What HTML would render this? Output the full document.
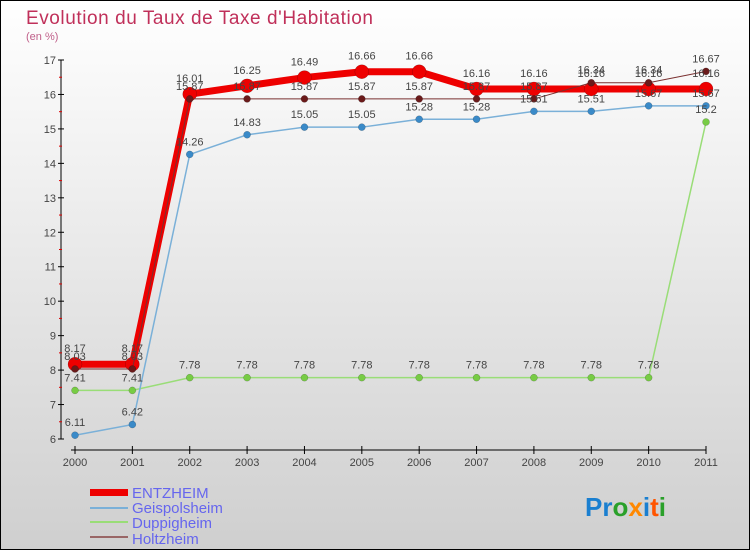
<!DOCTYPE html>
<html><head><meta charset="utf-8"><style>
html,body{margin:0;padding:0;}
body{width:750px;height:550px;overflow:hidden;font-family:"Liberation Sans",sans-serif;}
</style></head><body>
<svg id="chart" width="750" height="550" xmlns="http://www.w3.org/2000/svg">
<defs><linearGradient id="bg" x1="0" y1="0" x2="0" y2="1"><stop offset="0" stop-color="#ffffff"/><stop offset="1" stop-color="#cfcfcf"/></linearGradient></defs>
<rect x="0.5" y="0.5" width="749" height="549" fill="url(#bg)" stroke="#000"/>
<text x="26" y="24" font-size="19" fill="#c0305a" textLength="347">Evolution du Taux de Taxe d'Habitation</text>
<text x="26" y="40" font-size="11" fill="#c0608a">(en %)</text>
<g id="axes"></g><g id="series"></g><g id="labels"></g>
<g font-size="15" fill="#6666ee">
<rect x="90" y="489" width="38" height="7" fill="#ee0000"/>
<text x="132" y="498">ENTZHEIM</text>
<rect x="90" y="507" width="38" height="2" fill="#7ab0d8"/>
<text x="132" y="513">Geispolsheim</text>
<rect x="90" y="521" width="38" height="2" fill="#99dd77"/>
<text x="132" y="528">Duppigheim</text>
<rect x="90" y="536" width="38" height="2" fill="#996666"/>
<text x="132" y="544">Holtzheim</text>
</g>
<g font-size="26" font-weight="bold">
<text x="585" y="516"><tspan fill="#1a7fd0">Pr</tspan><tspan fill="#2aa02a">o</tspan><tspan fill="#ff8800">x</tspan><tspan fill="#1a7fd0">i</tspan><tspan fill="#ff5500">t</tspan><tspan fill="#2aa02a">i</tspan></text>
</g>
</svg>
<script>
const years=[2000,2001,2002,2003,2004,2005,2006,2007,2008,2009,2010,2011];
const entzheim=[8.17,8.17,16.01,16.25,16.49,16.66,16.66,16.16,16.16,16.16,16.16,16.16];
const geispolsheim=[6.11,6.42,14.26,14.83,15.05,15.05,15.28,15.28,15.51,15.51,15.67,15.67];
const duppigheim=[7.41,7.41,7.78,7.78,7.78,7.78,7.78,7.78,7.78,7.78,7.78,15.2];
const holtzheim=[8.03,8.03,15.87,15.87,15.87,15.87,15.87,15.87,15.87,16.34,16.34,16.67];
const yTicks=[6,7,8,9,10,11,12,13,14,15,16,17];
const NS="http://www.w3.org/2000/svg";
function xs(i){return 75+i*(706-75)/(years.length-1);}
function ys(v){return 439-(v-6)*(439-60)/11;}
function mk(tag,attrs,parent){const e=document.createElementNS(NS,tag);for(const k in attrs)e.setAttribute(k,attrs[k]);parent.appendChild(e);return e;}
const axes=document.getElementById('axes'),ser=document.getElementById('series'),lab=document.getElementById('labels');
let yl=mk('line',{x1:61,y1:60,x2:61,y2:439,stroke:'#000'},axes);


yTicks.forEach(t=>{
 mk('line',{x1:58,y1:ys(t),x2:64,y2:ys(t),stroke:'#000'},axes);
 if(t<17)mk('line',{x1:59,y1:ys(t+0.5),x2:62,y2:ys(t+0.5),stroke:'#d00'},axes);
 const tx=mk('text',{x:56,y:ys(t)+4,'font-size':11,'text-anchor':'end',fill:'#444'},axes);tx.textContent=t;
 
 
});
let xl=mk('line',{x1:71,y1:450,x2:706,y2:450,stroke:'#000'},axes);


years.forEach((y,i)=>{
 mk('line',{x1:xs(i),y1:446,x2:xs(i),y2:454,stroke:'#000'},axes);
 const tx=mk('text',{x:xs(i),y:466,'font-size':11,'text-anchor':'middle',fill:'#444'},axes);tx.textContent=y;
 
 
});
function draw(data,name,color,width,r,dot,labOff){
 const pts=data.map((v,i)=>xs(i)+','+ys(v)).join(' ');
 const pl=mk('polyline',{points:pts,fill:'none',stroke:color,'stroke-width':width},ser);
 
 
 data.forEach((v,i)=>{
  const c=mk('circle',{cx:xs(i),cy:ys(v),r:r,fill:dot,stroke:'rgba(0,0,0,0.3)','stroke-width':0.5},ser);
  
  
  const t=mk('text',{x:xs(i),y:ys(v)+labOff,'font-size':11,'text-anchor':'middle',fill:'#444'},lab);t.textContent=v;
  
  
 });
}
draw(duppigheim,'duppigheim','#99dd77',1.5,3.5,'#77cc44',-9);
draw(geispolsheim,'geispolsheim','#7ab0d8',1.5,3.5,'#3a8ac8',-9);
draw(entzheim,'entzheim','#ee0000',7,7,'#ee0000',-12);
draw(holtzheim,'holtzheim','#7a3030',1,3.5,'#6a1a1a',-9);
</script>
</body></html>
